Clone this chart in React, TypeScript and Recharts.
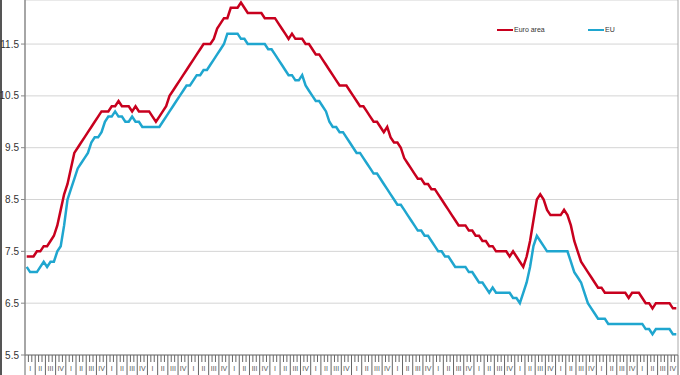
import React from "react"
import { LineChart, Line, XAxis, YAxis, CartesianGrid, Legend, ReferenceLine } from "recharts"

// monthly unemployment rate (%), Jan 2008 .. Dec 2023
const euroArea = [
  7.4, 7.4, 7.4, 7.5, 7.5, 7.6, 7.6, 7.7, 7.8, 8.0, 8.3, 8.6,
  8.8, 9.1, 9.4, 9.5, 9.6, 9.7, 9.8, 9.9, 10.0, 10.1, 10.2, 10.2,
  10.2, 10.3, 10.3, 10.4, 10.3, 10.3, 10.3, 10.2, 10.3, 10.2, 10.2, 10.2,
  10.2, 10.1, 10.0, 10.1, 10.2, 10.3, 10.5, 10.6, 10.7, 10.8, 10.9, 11.0,
  11.1, 11.2, 11.3, 11.4, 11.5, 11.5, 11.5, 11.6, 11.8, 11.9, 12.0, 12.0,
  12.2, 12.2, 12.2, 12.3, 12.2, 12.1, 12.1, 12.1, 12.1, 12.1, 12.0, 12.0,
  12.0, 12.0, 11.9, 11.8, 11.7, 11.6, 11.7, 11.6, 11.6, 11.6, 11.5, 11.5,
  11.4, 11.3, 11.3, 11.2, 11.1, 11.0, 10.9, 10.8, 10.7, 10.7, 10.7, 10.6,
  10.5, 10.4, 10.3, 10.3, 10.2, 10.1, 10.0, 10.0, 9.9, 9.8, 9.9, 9.7,
  9.6, 9.6, 9.5, 9.3, 9.2, 9.1, 9.0, 8.9, 8.9, 8.8, 8.8, 8.7,
  8.7, 8.6, 8.5, 8.4, 8.3, 8.2, 8.1, 8.0, 8.0, 8.0, 7.9, 7.9,
  7.8, 7.8, 7.7, 7.7, 7.6, 7.6, 7.5, 7.5, 7.5, 7.5, 7.4, 7.5,
  7.4, 7.3, 7.2, 7.4, 7.7, 8.1, 8.5, 8.6, 8.5, 8.3, 8.2, 8.2,
  8.2, 8.2, 8.3, 8.2, 8.0, 7.7, 7.5, 7.3, 7.2, 7.1, 7.0, 6.9,
  6.8, 6.8, 6.7, 6.7, 6.7, 6.7, 6.7, 6.7, 6.7, 6.6, 6.7, 6.7,
  6.7, 6.6, 6.5, 6.5, 6.4, 6.5, 6.5, 6.5, 6.5, 6.5, 6.4, 6.4,
]

const eu = [
  7.2, 7.1, 7.1, 7.1, 7.2, 7.3, 7.2, 7.3, 7.3, 7.5, 7.6, 8.0,
  8.5, 8.7, 8.9, 9.1, 9.2, 9.3, 9.4, 9.6, 9.7, 9.7, 9.8, 10.0,
  10.1, 10.1, 10.2, 10.1, 10.1, 10.0, 10.0, 10.1, 10.0, 10.0, 9.9, 9.9,
  9.9, 9.9, 9.9, 9.9, 10.0, 10.1, 10.2, 10.3, 10.4, 10.5, 10.6, 10.7,
  10.7, 10.8, 10.9, 10.9, 11.0, 11.0, 11.1, 11.2, 11.3, 11.4, 11.5, 11.7,
  11.7, 11.7, 11.7, 11.6, 11.6, 11.5, 11.5, 11.5, 11.5, 11.5, 11.5, 11.4,
  11.4, 11.3, 11.2, 11.1, 11.0, 10.9, 10.9, 10.8, 10.8, 10.9, 10.7, 10.6,
  10.5, 10.4, 10.4, 10.3, 10.2, 10.0, 9.9, 9.9, 9.8, 9.8, 9.7, 9.6,
  9.5, 9.4, 9.4, 9.3, 9.2, 9.1, 9.0, 9.0, 8.9, 8.8, 8.7, 8.6,
  8.5, 8.4, 8.4, 8.3, 8.2, 8.1, 8.0, 7.9, 7.9, 7.8, 7.8, 7.7,
  7.6, 7.5, 7.5, 7.4, 7.4, 7.3, 7.2, 7.2, 7.2, 7.2, 7.1, 7.1,
  7.0, 6.9, 6.9, 6.8, 6.7, 6.8, 6.7, 6.7, 6.7, 6.7, 6.7, 6.6,
  6.6, 6.5, 6.7, 6.9, 7.2, 7.6, 7.8, 7.7, 7.6, 7.5, 7.5, 7.5,
  7.5, 7.5, 7.5, 7.5, 7.3, 7.1, 7.0, 6.9, 6.7, 6.5, 6.4, 6.3,
  6.2, 6.2, 6.2, 6.1, 6.1, 6.1, 6.1, 6.1, 6.1, 6.1, 6.1, 6.1,
  6.1, 6.1, 6.0, 6.0, 5.9, 6.0, 6.0, 6.0, 6.0, 6.0, 5.9, 5.9,
]

const seriesNames = ["Euro area", "EU"]
const quarterLabels = ["I", "II", "III", "IV"]
const yTicks = [5.5, 6.5, 7.5, 8.5, 9.5, 10.5, 11.5]

const nMonths = euroArea.length
const data = euroArea.map((v, i) => ({ t: i + 0.5, ea: v, eu: eu[i] }))

// month boundaries (integers) + quarter centres
const xTicks: number[] = []
for (let i = 0; i <= nMonths; i++) {
  xTicks.push(i)
  if (i % 3 === 0 && i < nMonths) xTicks.push(i + 1.5)
}

const font = "'Liberation Sans', Arial, sans-serif"

const MonthTick = (props: any) => {
  const { x, y, payload } = props
  const v = payload.value
  if (Number.isInteger(v)) {
    const len = v % 3 === 0 ? 20 : 7
    return <line x1={x} y1={y} x2={x} y2={y + len} stroke="#666" strokeWidth={1} />
  }
  const q = Math.floor(v / 3) % 4
  return (
    <text x={x} y={y + 16} textAnchor="middle" fontSize={7} fill="#555" fontFamily={font}>
      {quarterLabels[q]}
    </text>
  )
}

const LegendBox = (props: any) => {
  const items = [...(props.payload || [])].sort(
    (a: any, b: any) => seriesNames.indexOf(a.value) - seriesNames.indexOf(b.value)
  )
  return (
    <div style={{ display: "flex", fontFamily: font, fontSize: 7, color: "#333" }}>
      {items.map((p: any) => (
        <div key={p.value} style={{ display: "flex", alignItems: "center", width: 91 }}>
          <span style={{ display: "inline-block", width: 16, height: 2, background: p.color, marginRight: 1 }} />
          <span>{p.value}</span>
        </div>
      ))}
    </div>
  )
}

export default function App() {
  return (
    <div style={{ position: "absolute", left: 0, top: 0, width: 680, height: 375, background: "#fff" }}>
      <div style={{ position: "absolute", left: 0, top: 0, width: 2, height: 375, background: "#555" }} />
      <LineChart width={680} height={375} data={data} margin={{ top: 0, right: 2, bottom: 0, left: 0 }}>
        <CartesianGrid vertical={false} stroke="#d4d4d4" strokeWidth={1} />
        <XAxis
          dataKey="t"
          type="number"
          domain={[0, nMonths]}
          ticks={xTicks}
          interval={0}
          height={20}
          tickSize={0}
          tickMargin={0}
          tick={<MonthTick />}
          axisLine={{ stroke: "#777", strokeWidth: 1 }}
          tickLine={false}
        />
        <YAxis
          width={25}
          domain={[5.5, 12.35]}
          allowDataOverflow
          ticks={yTicks}
          interval={0}
          tickSize={4}
          tickMargin={2}
          tick={{ fontSize: 10, fill: "#333", fontFamily: font }}
          axisLine={{ stroke: "#888", strokeWidth: 1.5 }}
          tickLine={{ stroke: "#888" }}
        />
        <ReferenceLine x={nMonths} stroke="#aaa" strokeWidth={1} />
        <Legend
          layout="horizontal"
          verticalAlign="middle"
          align="center"
          content={<LegendBox />}
          wrapperStyle={{ position: "absolute", top: 26, left: 497, width: 190 }}
        />
        <Line
          name={seriesNames[0]}
          dataKey="ea"
          stroke="#c8001e"
          strokeWidth={2.5}
          dot={false}
          type="linear"
          isAnimationActive={false}
        />
        <Line
          name={seriesNames[1]}
          dataKey="eu"
          stroke="#1fa6cf"
          strokeWidth={2.5}
          dot={false}
          type="linear"
          isAnimationActive={false}
        />
      </LineChart>
    </div>
  )
}
